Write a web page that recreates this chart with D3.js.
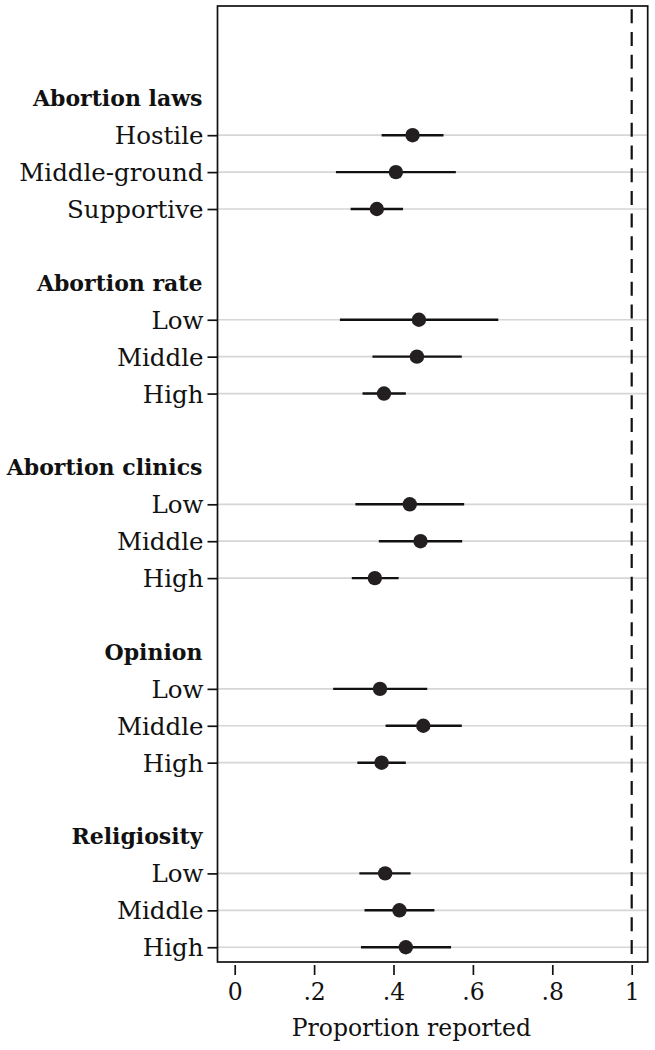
<!DOCTYPE html>
<html>
<head>
<meta charset="utf-8">
<script src="https://cdn.jsdelivr.net/npm/d3@7"></script>
<style>
  html, body { margin: 0; padding: 0; background: #fff; }
  svg { display: block; }
  text { font-family: "DejaVu Serif", "Liberation Serif", serif; fill: #111; }
</style>
</head>
<body>
<div id="chart"></div>
<script>
// ---- data ----
const groups = ["Abortion laws", "Abortion rate", "Abortion clinics", "Opinion", "Religiosity"];
const levels = [
  ["Hostile", "Middle-ground", "Supportive"],
  ["Low", "Middle", "High"],
  ["Low", "Middle", "High"],
  ["Low", "Middle", "High"],
  ["Low", "Middle", "High"]
];
const estimate = [0.448, 0.406, 0.358, 0.464, 0.459, 0.376, 0.441, 0.468, 0.353, 0.366, 0.475, 0.370, 0.379, 0.415, 0.431];
const lower    = [0.370, 0.255, 0.292, 0.265, 0.347, 0.322, 0.304, 0.363, 0.295, 0.248, 0.380, 0.309, 0.314, 0.327, 0.318];
const upper    = [0.526, 0.557, 0.424, 0.664, 0.572, 0.431, 0.578, 0.573, 0.413, 0.485, 0.572, 0.431, 0.443, 0.503, 0.545];
const xTicks = [0, 0.2, 0.4, 0.6, 0.8, 1];
const xTickLabels = ["0", ".2", ".4", ".6", ".8", "1"];
const refValue = 1;
const xTitle = "Proportion reported";

// ---- layout ----
const W = 655, H = 1050;
const box = { left: 217.5, right: 647.7, top: 6, bottom: 962 };

const svg = d3.select("#chart").append("svg").attr("width", W).attr("height", H);

const x = d3.scaleLinear().domain([0, 1]).range([234.7, 631.7]);
const y = d3.scaleLinear().domain([-2.5, 23.4]).range([box.top, box.bottom]);

// rows
const rows = [];
groups.forEach((g, gi) => {
  levels[gi].forEach((lv, li) => {
    const k = rows.length;
    rows.push({ label: lv, row: gi * 5 + 1 + li, est: estimate[k], lo: lower[k], hi: upper[k] });
  });
});

// gridlines
svg.append("g").selectAll("line").data(rows).join("line")
  .attr("x1", box.left).attr("x2", box.right)
  .attr("y1", d => y(d.row)).attr("y2", d => y(d.row))
  .attr("stroke", "#d6d6d6").attr("stroke-width", 1.7);

// reference line
svg.append("line")
  .attr("x1", x(refValue)).attr("x2", x(refValue))
  .attr("y1", box.top + 3.3).attr("y2", box.bottom)
  .attr("stroke", "#111").attr("stroke-width", 2.2)
  .attr("stroke-dasharray", "14 8.7");

// box
svg.append("rect")
  .attr("x", box.left).attr("y", box.top)
  .attr("width", box.right - box.left).attr("height", box.bottom - box.top)
  .attr("fill", "none").attr("stroke", "#111").attr("stroke-width", 1.7);

// CIs
svg.append("g").selectAll("line").data(rows).join("line")
  .attr("x1", d => x(d.lo)).attr("x2", d => x(d.hi))
  .attr("y1", d => y(d.row)).attr("y2", d => y(d.row))
  .attr("stroke", "#111").attr("stroke-width", 2.4);

// points
svg.append("g").selectAll("circle").data(rows).join("circle")
  .attr("cx", d => x(d.est)).attr("cy", d => y(d.row)).attr("r", 7.2)
  .attr("fill", "#231f20");

// y axis (item ticks)
const yAxis = d3.axisLeft(y)
  .tickValues(rows.map(d => d.row))
  .tickFormat(v => rows.find(r => r.row === v).label)
  .tickSize(10).tickPadding(4);
const gy = svg.append("g").attr("transform", `translate(${box.left},0)`).call(yAxis);
gy.select(".domain").remove();
gy.selectAll(".tick line").attr("stroke", "#111").attr("stroke-width", 1.7);
gy.selectAll(".tick text").attr("font-size", 24.5).attr("fill", "#111")
  .attr("font-family", "DejaVu Serif").attr("dy", "0.35em");

// group headers
svg.append("g").selectAll("text").data(groups).join("text")
  .attr("x", box.left - 15).attr("y", (d, i) => y(i * 5))
  .attr("dy", "0.35em").attr("text-anchor", "end")
  .attr("font-size", 22).attr("font-weight", "bold")
  .text(d => d);

// x axis
const xAxis = d3.axisBottom(x).tickValues(xTicks)
  .tickFormat((d, i) => xTickLabels[i]).tickSize(10).tickPadding(8);
const gx = svg.append("g").attr("transform", `translate(0,${box.bottom + 3})`).call(xAxis);
gx.select(".domain").remove();
gx.selectAll(".tick line").attr("stroke", "#111").attr("stroke-width", 1.7);
gx.selectAll(".tick text").attr("font-size", 23.5).attr("fill", "#111").attr("font-family", "DejaVu Serif");

// x title
svg.append("text")
  .attr("x", x(0.445)).attr("y", 1036)
  .attr("text-anchor", "middle").attr("font-size", 23.5)
  .text(xTitle);
</script>
</body>
</html>
